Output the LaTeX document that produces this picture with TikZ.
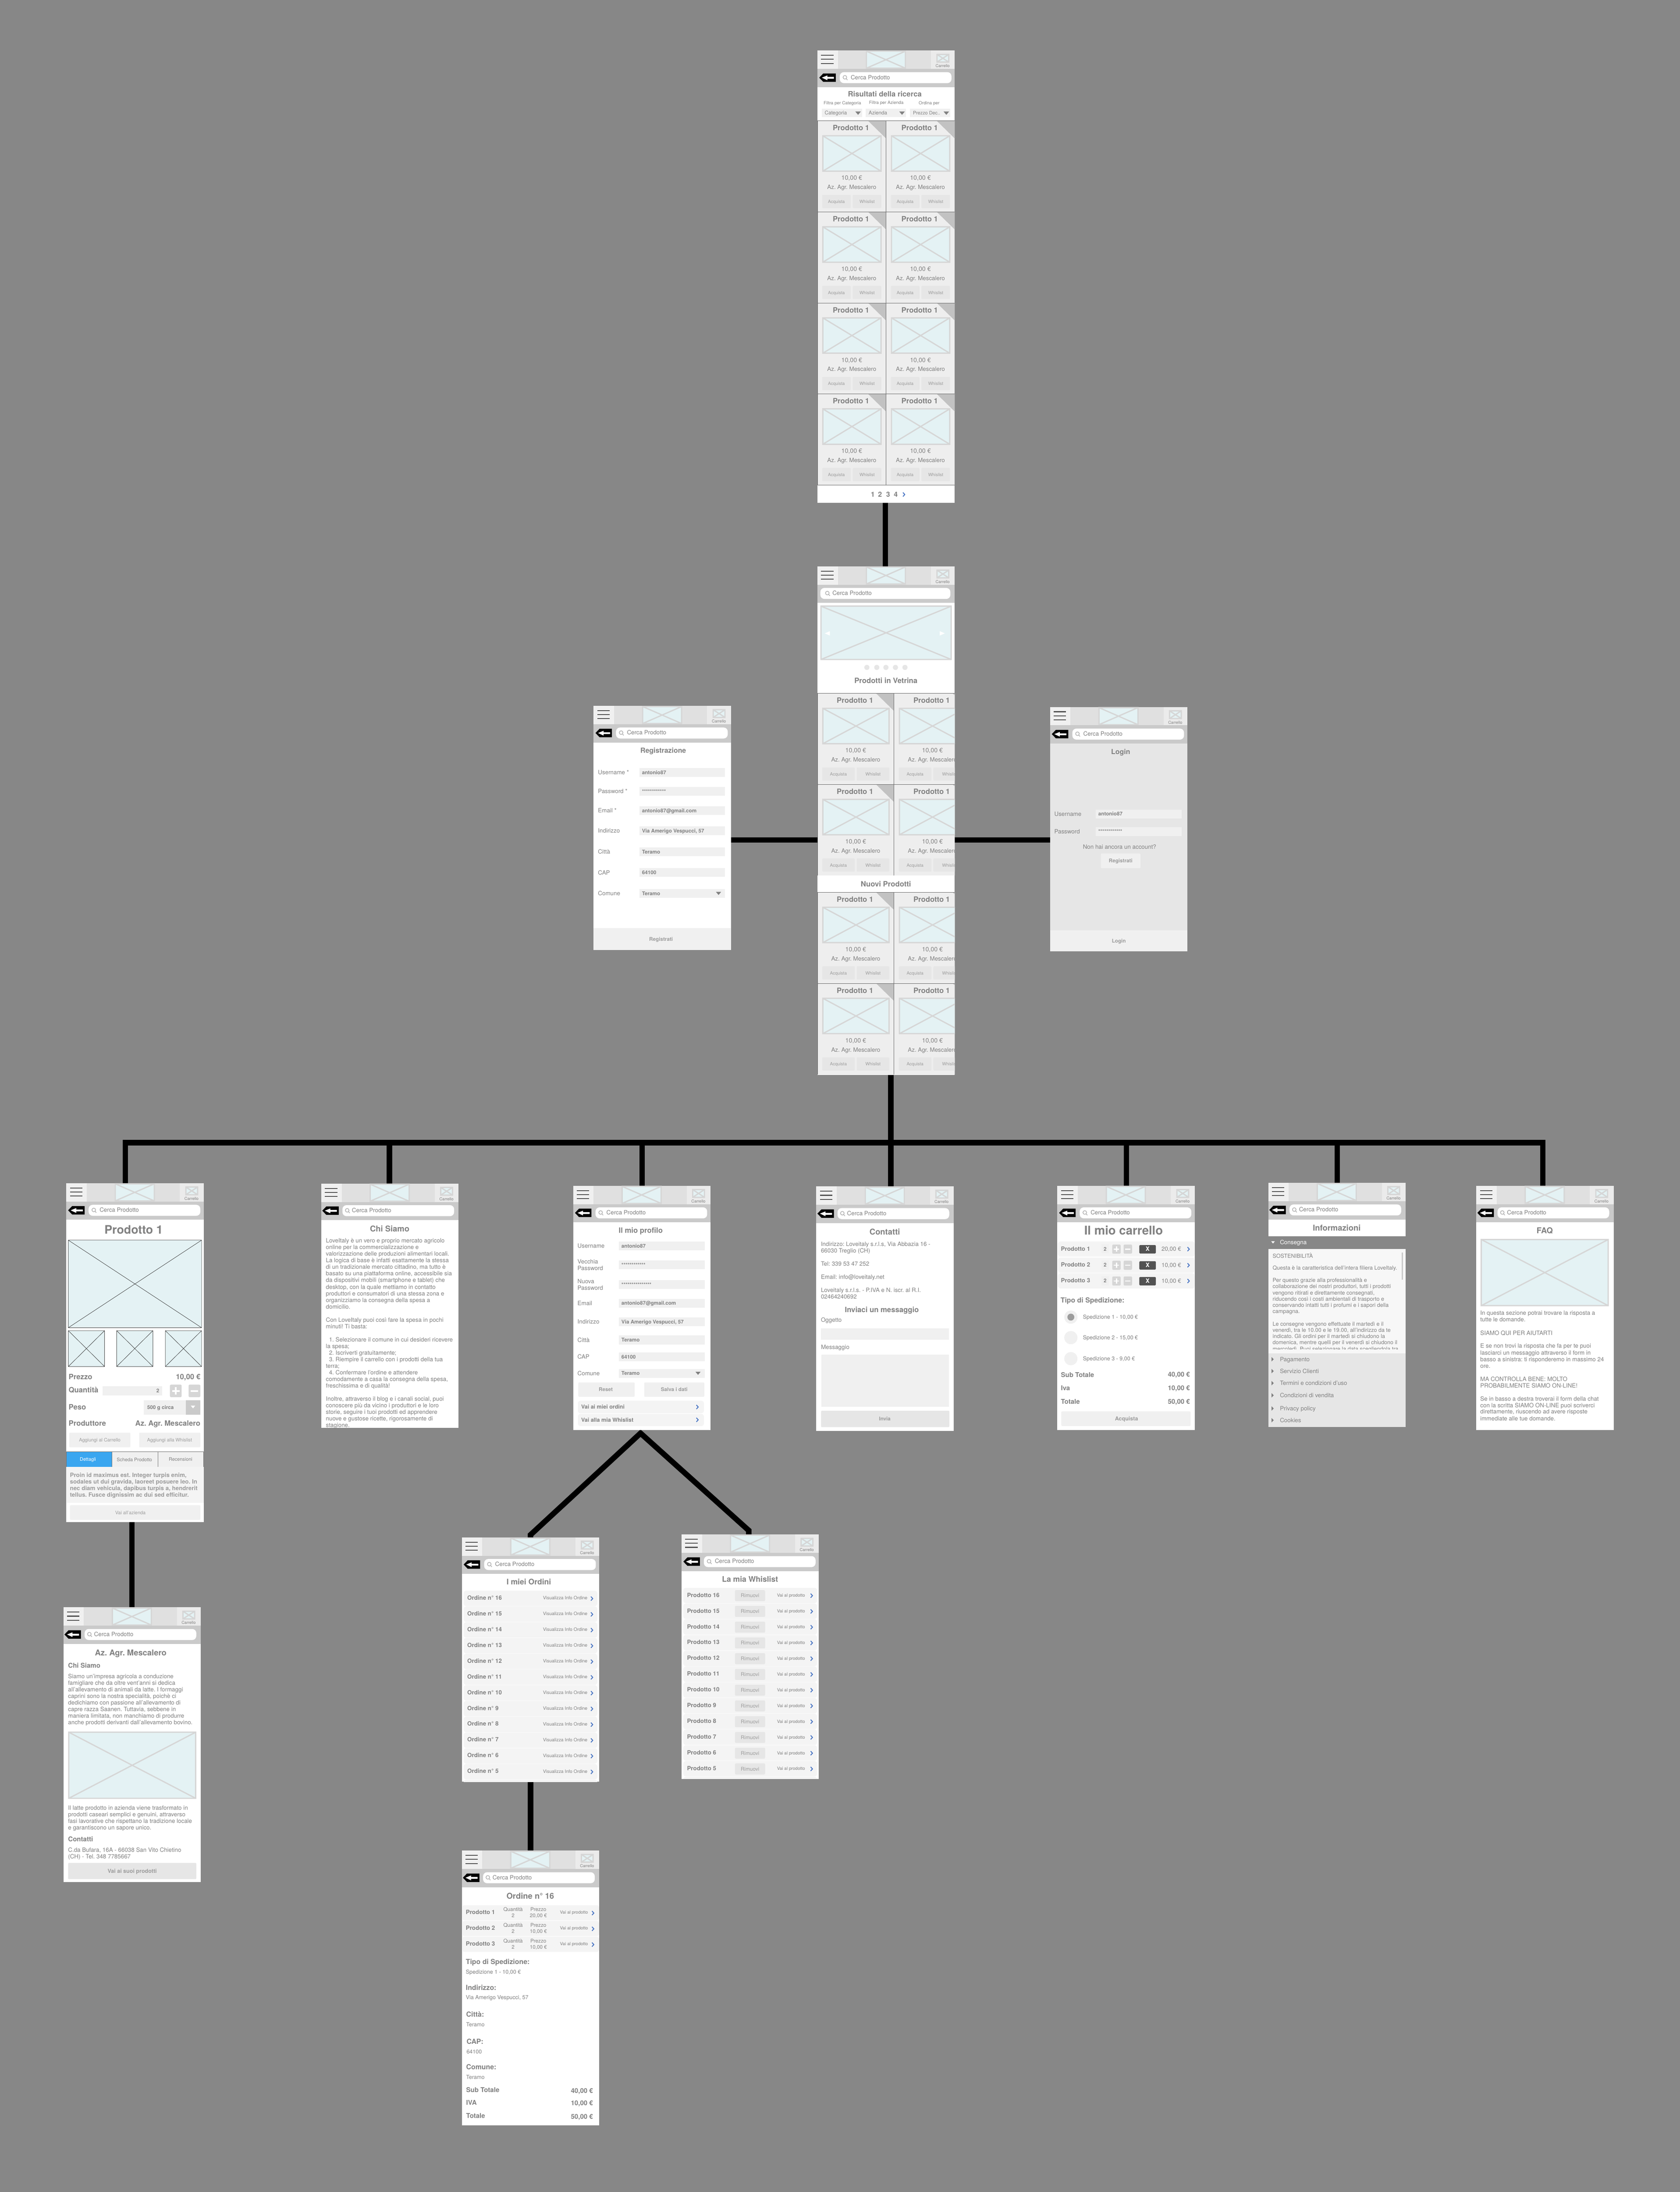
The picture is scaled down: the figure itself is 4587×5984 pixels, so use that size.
\documentclass[tikz,border=0pt]{standalone}
\usepackage{fontspec}
\setmainfont{TeX Gyre Heros}
\usepackage{xcolor}
\frenchspacing

\definecolor{wfbg}{HTML}{878787}
\definecolor{wftxt}{HTML}{808080}
\definecolor{wfsoft}{HTML}{9C9C9C}
\definecolor{wfhead}{HTML}{E0E0E0}
\definecolor{wfbar}{HTML}{CACACA}
\definecolor{wfcard}{HTML}{EEEEEE}
\definecolor{wfbtn}{HTML}{E6E6E6}
\definecolor{wffield}{HTML}{F0F0F0}
\definecolor{wfrow}{HTML}{F4F4F4}
\definecolor{wfimg}{HTML}{E4F2F4}
\definecolor{wfedge}{HTML}{D6D6D6}
\definecolor{wfblue}{HTML}{4A76C4}
\definecolor{wftab}{HTML}{3AA6F0}

\pgfdeclarelayer{links}
\pgfsetlayers{links,main}

\tikzset{
  screen/.style={fill=white, anchor=north west, inner sep=0pt, outer sep=0pt, minimum width=375pt},
  link/.style={draw=black, line width=15pt, line join=miter},
  lb/.style={inner sep=0pt, outer sep=0pt, text=wftxt, yshift=-1.5pt},
  sz/.style={font=\fontsize{#1}{#1}\selectfont},
  bsz/.style={font=\fontsize{#1}{#1}\selectfont\bfseries},
  tl/.style={anchor=west},
  tr/.style={anchor=east},
  imgph/.style={fill=wfimg, draw=wfedge, line width=3.5pt},
  imgthin/.style={fill=wfimg, draw=black!75, line width=1pt},
  btn/.style={fill=wfbtn, rounded corners=2.5pt},
  rowbar/.style={fill=wfrow, rounded corners=7pt},
  chevron/.style={draw=wfblue, line width=2.4pt},
}

\newcounter{lbl}
\newcommand{\lab}[4][]{\stepcounter{lbl}\node[lb,#1] (lb\thelbl) at (#2,#3) {\vphantom{Ag}#4};}
\newcommand{\para}[5][]{\foreach \linetext [count=\linei from 0] in {#5} {\lab[tl,sz=16,#1]{#2}{#3+#4*\linei}{\linetext}}}
\newcommand{\imgbox}[5][imgph]{\draw[#1] (#2,#3) rectangle (#4,#5) (#2,#3) -- (#4,#5) (#2,#5) -- (#4,#3);}
\newcommand{\chev}[2]{\draw[chevron] (#1-2.5,#2-5.5) -- (#1+2.5,#2) -- (#1-2.5,#2+5.5);}
\newcommand{\tridown}[4][wftxt]{\fill[#1] (#2-#4,#3-#4*0.6) -- (#2+#4,#3-#4*0.6) -- (#2,#3+#4*0.6) -- cycle;}

\newcommand{\phonetop}{
  \fill[wfhead] (0,0) rectangle (375,50);
  \fill[wffield] (0,0) rectangle (56,50);
  \fill[black!8] (310,0) rectangle (375,50);
  \foreach \barY in {13,24,35} \draw[black!68, line width=2.5pt] (10,\barY) -- (44,\barY);
  \imgbox{133.75}{1.75}{240.25}{48.25}
  \imgbox{326.5}{10.5}{358.5}{31.5}
  \lab[sz=11]{342}{41.5}{Carrello}
  \fill[wfbar] (0,50) rectangle (375,100);
}
\newcommand{\backicon}[1]{
  \fill[black] (#1,74) -- (#1+11,62.5) -- (#1+45,62.5) -- (#1+45,85.5) -- (#1+11,85.5) -- cycle;
  \fill[white] (#1+7,74) -- (#1+22,68) -- (#1+22,72) -- (#1+40,72) -- (#1+40,77) -- (#1+22,77) -- (#1+22,81) -- cycle;
}
\newcommand{\searchfield}[4]{
  \fill[white, rounded corners=11pt] (#1,59) rectangle (#2,89);
  \draw[wfsoft!80, line width=1.7pt] (#3,73) circle (5pt) (#3+3.5,76.5) -- (#3+7,80.5);
  \lab[tl,sz=16]{#4}{73}{Cerca Prodotto}
}
\newcommand{\phoneA}{\phonetop\backicon{5}\searchfield{61}{366}{75}{91}}
\newcommand{\phoneB}{\phonetop\backicon{3}\searchfield{58}{363}{71}{84}}

\newcommand{\prodcard}[3]{
  \begin{scope}[shift={(#1,#2)}]
    \fill[wfcard] (0,0) rectangle (#3,248.5);
    \fill[black!24] (#3-49,0) -- (#3,0) -- (#3,48) -- cycle;
    \draw[black!60, line width=1pt] (0,248.5) -- (0,0) -- (#3,0);
    \lab[bsz=20]{#3/2-2}{20}{Prodotto 1}
    \imgbox{14.75}{40.75}{#3-13.75}{137.25}
    \lab[sz=17]{#3/2}{156}{10,00 €}
    \lab[sz=16]{#3/2}{181}{Az. Agr. Mescalero}
    \fill[btn] (13,202) rectangle (#3/2-2.5,238);
    \fill[btn] (#3/2+2.5,202) rectangle (#3-13,238);
    \lab[sz=12,text=wfsoft]{#3/4+5}{220}{Acquista}
    \lab[sz=12,text=wfsoft]{#3*0.75-5}{220}{Whislist}
  \end{scope}
}
\newcommand{\formrow}[3]{
  \fill[wffield] (125,#1-12) rectangle (359,#1+12);
  \lab[tl,sz=16]{12}{#1}{#2}
  \lab[tl,bsz=14]{132}{#1}{#3}
}
\newcommand{\plusbtn}[4]{
  \fill[wfedge, rounded corners=3pt] (#1,#2) rectangle (#3,#4);
  \draw[white, line width={(#3-#1)*0.14}] ({(#1+#3)/2-(#3-#1)*0.32},{(#2+#4)/2}) -- ({(#1+#3)/2+(#3-#1)*0.32},{(#2+#4)/2}) ({(#1+#3)/2},{(#2+#4)/2-(#3-#1)*0.32}) -- ({(#1+#3)/2},{(#2+#4)/2+(#3-#1)*0.32});
}
\newcommand{\minusbtn}[4]{
  \fill[wfedge, rounded corners=3pt] (#1,#2) rectangle (#3,#4);
  \draw[white, line width={(#3-#1)*0.14}] ({(#1+#3)/2-(#3-#1)*0.32},{(#2+#4)/2}) -- ({(#1+#3)/2+(#3-#1)*0.32},{(#2+#4)/2});
}

\begin{document}
\begin{tikzpicture}[x=1pt,y=-1pt]

  \useasboundingbox (0,0) rectangle (4587,5984);

  \node[screen, minimum height=1235pt] (search) at (2232,138) {};
  \node[screen, minimum height=1388pt] (home) at (2232,1546) {};
  \node[screen, minimum height=667pt] (reg) at (1621,1927) {};
  \node[screen, minimum height=667pt] (login) at (2867,1930) {};
  \node[screen, minimum height=925pt] (prodotto) at (181,3230) {};
  \node[screen, minimum height=667pt] (chi) at (877,3231) {};
  \node[screen, minimum height=667pt] (profilo) at (1565,3237) {};
  \node[screen, minimum height=667pt] (contatti) at (2229,3239) {};
  \node[screen, minimum height=667pt] (carrello) at (2887,3237) {};
  \node[screen, minimum height=667pt] (info) at (3463,3229) {};
  \node[screen, minimum height=667pt] (faq) at (4031,3237) {};
  \node[screen, minimum height=750pt] (azienda) at (173,4388) {};
  \node[screen, minimum height=667pt] (ordini) at (1261,4197) {};
  \node[screen, minimum height=667pt] (whish) at (1861,4189) {};
  \node[screen, minimum height=750pt] (ordine) at (1261,5052) {};

  \coordinate (topjoin) at (2417.5,1450);
  \coordinate (midjoin) at (2419.5,2293);
  \coordinate (busjoin) at (2432.5,3119.5);
  \coordinate (busleft) at (342.5,3119.5);
  \coordinate (busright) at (4212.5,3119.5);
  \coordinate (apex) at (1749,3912.5);
  \coordinate (ordinibend) at (1448.5,4190);
  \coordinate (whishbend) at (2044.5,4178);
  \coordinate (aziendatop) at (360.5,4300);

  \begin{pgfonlayer}{links}
    \fill[wfbg] (0,0) rectangle (4587,5984);
    \draw[link] (search.south -| topjoin) -- (home.north -| topjoin);
    \draw[link] (reg.east |- midjoin) -- (home.west |- midjoin);
    \draw[link] (home.east |- midjoin) -- (login.west |- midjoin);
    \draw[link] (home.south -| busjoin) -- (contatti.north -| busjoin);
    \draw[link] (prodotto.north -| busleft) -- (busleft) -- (busright) -- (faq.north -| busright);
    \foreach \name/\dropx in {chi/1063.5, profilo/1753.5, carrello/3075.5, info/3651.5} {
      \coordinate (drop\name) at (\dropx,3119.5);
      \draw[link] (drop\name) -- (\name.north -| drop\name);
    }
    \draw[link] (prodotto.south -| aziendatop) -- (azienda.north);
    \draw[link] (ordini.north) -- (ordinibend) -- (apex) -- (whishbend) -- (whish.north -| whishbend);
    \draw[link] (ordini.south) -- (ordine.north);
  \end{pgfonlayer}

  \begin{scope}[shift={(2232,138)}]
    \phoneA
    \lab[bsz=20]{184}{119}{Risultati della ricerca}
    \lab[sz=12]{68}{143}{Filtra per Categoria}
    \lab[sz=12]{188}{142}{Filtra per Azienda}
    \lab[sz=12]{305}{143}{Ordina per}
    \foreach \ddx/\ddtext/\ddtx/\ddsz in {12/Categoria/20/14, 132/Azienda/140/14, 253/Prezzo Dec../261/13} {
      \fill[wffield] (\ddx,159) rectangle (\ddx+110,181);
      \lab[tl,sz=\ddsz]{\ddtx}{170}{\ddtext}
      \tridown{\ddx+99}{171}{7.5}
    }
    \foreach \rowY in {192,440.5,689,937.5} {
      \prodcard{0}{\rowY}{187.5}
      \prodcard{187.5}{\rowY}{187.5}
    }
    \draw[black!60, line width=1pt] (0,1186) -- (375,1186);
    \foreach \pageN/\pageX in {1/151, 2/171, 3/193, 4/214} {
      \lab[bsz=19]{\pageX}{1212}{\pageN}
    }
    \chev{236}{1212}
  \end{scope}

  \begin{scope}[shift={(2232,1546)}]
    \begin{scope}
      \clip (0,0) rectangle (375,1388);
      \phonetop
      \searchfield{8}{363}{27}{41}
      \imgbox{9.75}{108.75}{365.25}{254.25}
      \fill[white] (20,183) -- (34,177) -- (34,189) -- cycle (348,183) -- (334,177) -- (334,189) -- cycle;
      \foreach \dotX in {135,162,187,213,239} \fill[wfbtn] (\dotX,276) circle (7pt);
      \lab[bsz=20]{187}{312}{Prodotti in Vetrina}
      \foreach \rowY in {347,595.5,890,1138.5} {
        \prodcard{0}{\rowY}{209.3}
        \prodcard{209.3}{\rowY}{209.3}
      }
      \lab[bsz=20]{187}{868}{Nuovi Prodotti}
    \end{scope}
  \end{scope}

  \begin{scope}[shift={(1621,1927)}]
    \phoneA
    \lab[bsz=19]{190}{122}{Registrazione}
    \formrow{182}{Username *}{antonio87}
    \formrow{233}{Password *}{************}
    \formrow{286}{Email *}{antonio87@gmail.com}
    \formrow{341}{Indirizzo}{Via Amerigo Vespucci, 57}
    \formrow{398.5}{Città}{Teramo}
    \formrow{455}{CAP}{64100}
    \formrow{512}{Comune}{Teramo}
    \tridown{341}{512}{7}
    \fill[wffield] (0,607) rectangle (375,667);
    \lab[bsz=14,text=wfsoft]{184}{637}{Registrati}
  \end{scope}

  \begin{scope}[shift={(2867,1930)}]
    \phoneA
    \fill[wfbtn] (0,100) rectangle (375,609);
    \fill[wffield] (0,609) rectangle (375,667);
    \lab[bsz=19]{193}{122}{Login}
    \formrow{292}{Username}{antonio87}
    \formrow{340}{Password}{************}
    \lab[sz=16]{190}{382}{Non hai ancora un account?}
    \fill[btn, fill=wffield] (139,400) rectangle (247,440);
    \lab[bsz=14,text=wfsoft]{193}{420}{Registrati}
    \lab[bsz=14,text=wfsoft]{188}{639}{Login}
  \end{scope}

  \begin{scope}[shift={(181,3230)}]
    \phoneA
    \lab[bsz=32]{184}{129}{Prodotto 1}
    \imgbox[imgthin]{5.5}{155.5}{369.5}{394.5}
    \imgbox[imgthin]{5.5}{402.5}{104.5}{500.5}
    \imgbox[imgthin]{137.5}{402.5}{236.5}{500.5}
    \imgbox[imgthin]{270.5}{402.5}{369.5}{500.5}
    \lab[tl,bsz=20]{6.5}{528.5}{Prezzo}
    \lab[tr,bsz=20]{366}{528.5}{10,00 €}
    \lab[tl,bsz=20]{6.5}{565}{Quantità}
    \fill[wffield] (99,554) rectangle (262,579);
    \lab[tr,bsz=14]{254}{567}{2}
    \plusbtn{283}{550}{315}{584}
    \minusbtn{334}{550}{366}{584}
    \lab[tl,bsz=20]{6.5}{611.5}{Peso}
    \fill[wffield] (212,592) rectangle (366,632);
    \fill[wfbar] (326.5,592) rectangle (366,632);
    \tridown[white]{346}{611}{6}
    \lab[tl,bsz=14]{221}{611.5}{500 g circa}
    \lab[tl,bsz=20]{6.5}{656}{Produttore}
    \lab[tr,bsz=20]{366}{656}{Az. Agr. Mescalero}
    \fill[btn, fill=wffield] (8,681) rectangle (175,721);
    \fill[btn, fill=wffield] (199,681) rectangle (366,721);
    \lab[sz=13,text=wfsoft]{91.5}{701}{Aggiungi al Carrello}
    \lab[sz=13,text=wfsoft]{282}{701}{Aggiungi alla Whislist}
    \draw[fill=wftab, draw=black!55, line width=.8pt] (0,733) rectangle (125,775);
    \draw[fill=wffield, draw=black!55, line width=.8pt] (125,733) rectangle (250,775);
    \draw[fill=wffield, draw=black!55, line width=.8pt] (250,733) rectangle (375,775);
    \lab[sz=13,text=white]{59}{754}{Dettagli}
    \lab[sz=13]{186}{754}{Scheda Prodotto}
    \lab[sz=13]{312}{754}{Recensioni}
    \fill[wfrow] (0,775) rectangle (375,873);
    \para[bsz=16,text=wfsoft]{10}{797}{18}{{Proin id maximus est. Integer turpis enim,}, {sodales ut dui gravida, laoreet posuere leo. In}, {nec diam vehicula, dapibus turpis a, hendrerit}, tellus. Fusce dignissim ac dui sed efficitur.}
    \fill[btn, fill=wffield] (10,879) rectangle (366,919);
    \lab[sz=13,text=wfsoft]{175}{899}{Vai all'azienda}
  \end{scope}

  \begin{scope}[shift={(877,3231)}]
    \phoneB
    \lab[bsz=22]{187}{124}{Chi Siamo}
    \begin{scope}
      \clip (0,100) rectangle (375,667);
      \para{13}{156}{18}{LoveItaly è un vero e proprio mercato agricolo, online per la commercializzazione e, valorizzazione delle produzioni alimentari locali., La logica di base è infatti esattamente la stessa, {di un tradizionale mercato cittadino, ma tutto è}, {basato su una piattaforma online, accessibile sia}, da dispositivi mobili (smartphone e tablet) che, {desktop, con la quale mettiamo in contatto}, produttori e consumatori di una stessa zona e, organizziamo la consegna della spesa a, domicilio.}
      \para{13}{372}{18}{Con LoveItaly puoi così fare la spesa in pochi, minuti! Ti basta:}
      \para{13}{426}{18}{\hspace*{8.5pt}1. Selezionare il comune in cui desideri ricevere, la spesa;, \hspace*{8.5pt}2. Iscriverti gratuitamente;, \hspace*{8.5pt}3. Riempire il carrello con i prodotti della tua, terra;, \hspace*{8.5pt}4. Confermare l'ordine e attendere, {comodamente a casa la consegna della spesa,}, freschissima e di qualità!}
      \para{13}{588}{18}{{Inoltre, attraverso il blog e i canali social, puoi}, conoscere più da vicino i produttori e le loro, {storie, seguire i tuoi prodotti ed apprendere}, {nuove e gustose ricette, rigorosamente di}, stagione.}
    \end{scope}
  \end{scope}

  \begin{scope}[shift={(1565,3237)}]
    \phoneA
    \lab[bsz=20]{184.5}{122}{Il mio profilo}
    \formrow{164}{Username}{antonio87}
    \fill[wffield] (125,204) rectangle (359,228);
    \para{12}{207}{18}{Vecchia, Password}
    \lab[tl,bsz=14]{132}{216}{************}
    \fill[wffield] (125,258) rectangle (359,282);
    \para{12}{261}{18}{Nuova, Password}
    \lab[tl,bsz=14]{132}{270}{***************}
    \formrow{320.5}{Email}{antonio87@gmail.com}
    \formrow{371}{Indirizzo}{Via Amerigo Vespucci, 57}
    \formrow{421}{Città}{Teramo}
    \formrow{467}{CAP}{64100}
    \formrow{512}{Comune}{Teramo}
    \tridown{341}{512}{7}
    \fill[btn, fill=wffield] (14,537) rectangle (168,576);
    \fill[btn, fill=wffield] (194,537) rectangle (358,576);
    \lab[bsz=14,text=wfsoft]{89}{556}{Reset}
    \lab[bsz=14,text=wfsoft]{276}{556}{Salva i dati}
    \fill[rowbar] (13,587) rectangle (357,621);
    \fill[rowbar] (13,623) rectangle (357,656);
    \lab[tl,bsz=15]{22}{604}{Vai ai miei ordini}
    \lab[tl,bsz=15]{22}{639.5}{Vai alla mia Whislist}
    \chev{339}{604}
    \chev{339}{639}
  \end{scope}

  \begin{scope}[shift={(2229,3239)}]
    \phoneB
    \lab[bsz=22]{187}{124}{Contatti}
    \para{12.6}{157}{18}{{Indirizzo: Loveitaly s.r.l.s, Via Abbazia 16 -}, 66030 Treglio (CH)}
    \para{12.6}{211}{18}{Tel: 339 53 47 252}
    \para{12.6}{247}{18}{Email: info@loveitaly.net}
    \para{12.6}{283}{18}{Loveitaly s.r.l.s. - P.IVA e N. iscr. al R.I., 02464240692}
    \lab[bsz=20]{179}{336.5}{Inviaci un messaggio}
    \para{12.6}{364}{18}{Oggetto}
    \fill[wffield] (12,387) rectangle (362,418);
    \para{13}{439}{18}{Messaggio}
    \fill[wffield] (14,459) rectangle (362,601);
    \fill[btn] (13,612) rectangle (363,657);
    \lab[bsz=14,text=wfsoft]{187}{634}{Invia}
  \end{scope}

  \begin{scope}[shift={(2887,3237)}]
    \phoneA
    \lab[bsz=33]{181}{123.5}{Il mio carrello}
    \foreach \rowY/\rowN/\rowP in {152/1/20,196/2/10,239/3/10} {
      \fill[rowbar] (2,\rowY) rectangle (375,\rowY+41.5);
      \lab[tl,bsz=16]{10}{\rowY+20}{Prodotto \rowN}
      \fill[wffield] (120,\rowY+8) rectangle (141,\rowY+33);
      \lab[bsz=14]{130.5}{\rowY+20.5}{2}
      \plusbtn{150}{\rowY+8.5}{173}{\rowY+33.5}
      \minusbtn{181}{\rowY+8.5}{204}{\rowY+33.5}
      \fill[black!68, rounded corners=2pt] (224,\rowY+10) rectangle (269,\rowY+33);
      \lab[bsz=16,text=white]{246.5}{\rowY+21}{X}
      \lab[tr,sz=16]{338}{\rowY+21}{\rowP,00 €}
      \chev{358}{\rowY+21}
    }
    \lab[tl,bsz=19]{9}{313}{Tipo di Spedizione:}
    \foreach \rowY/\shipT in {358.6/{Spedizione 1 - 10,00 €}, 414.6/{Spedizione 2 - 15,00 €}, 472/{Spedizione 3 - 9,00 €}} {
      \fill[wffield] (37,\rowY) circle (18pt);
      \lab[tl,sz=15]{70}{\rowY}{\shipT}
    }
    \fill[wfsoft] (37,358.6) circle (9.5pt);
    \lab[tl,bsz=18]{10}{516}{Sub Totale}
    \lab[tr,bsz=18]{362}{516}{40,00 €}
    \lab[tl,bsz=18]{10}{553}{Iva}
    \lab[tr,bsz=18]{362}{553}{10,00 €}
    \lab[tl,bsz=18]{10}{590}{Totale}
    \lab[tr,bsz=18]{362}{590}{50,00 €}
    \fill[btn, fill=wffield] (11,616) rectangle (364,656);
    \lab[bsz=15,text=wfsoft]{189}{636}{Acquista}
  \end{scope}

  \begin{scope}[shift={(3463,3229)}]
    \phoneB
    \lab[bsz=22]{187}{124}{Informazioni}
    \fill[wfbg] (0,146) rectangle (375,181);
    \tridown[white]{13}{162.5}{5}
    \lab[tl,sz=16,text=white]{32}{162.5}{Consegna}
    \fill[black!3] (0,181) rectangle (375,465);
    \fill[wfbar] (364,190) rectangle (368,265);
    \begin{scope}
      \clip (0,181) rectangle (375,454);
      \para[sz=15]{12}{198}{17}{SOSTENIBILITÀ}
      \para[sz=15]{12}{232}{17}{Questa è la caratteristica dell'intera filiera LoveItaly.}
      \para[sz=15]{12}{266}{17}{Per questo grazie alla professionalità e, {collaborazione dei nostri produttori, tutti i prodotti}, {vengono ritirati e direttamente consegnati,}, riducendo così i costi ambientali di trasporto e, conservando intatti tutti i profumi e i sapori della, campagna.}
      \para[sz=15]{12}{385}{17}{Le consegne vengono effettuate il martedì e il, {venerdì, tra le 10.00 e le 19.00, all'indirizzo da te}, indicato. Gli ordini per il martedì si chiudono la, {domenica, mentre quelli per il venerdì si chiudono il}, mercoledì. Puoi selezionare la data scegliendola tra}
    \end{scope}
    \fill[wfbtn] (0,465) rectangle (375,667);
    \foreach \itemY/\itemT in {481.6/Pagamento, 514/Servizio Clienti, 547/Termini e condizioni d'uso, 580/Condizioni di vendita, 616/Privacy policy, 648/Cookies} {
      \fill[wftxt] (9,\itemY-6) -- (15,\itemY) -- (9,\itemY+6) -- cycle;
      \lab[tl,sz=16]{32}{\itemY}{\itemT}
    }
  \end{scope}

  \begin{scope}[shift={(4031,3237)}]
    \phoneB
    \lab[bsz=22]{187}{123}{FAQ}
    \imgbox{13.75}{146.75}{360.25}{327.25}
    \para{11}{347.5}{18}{In questa sezione potrai trovare la risposta a, tutte le domande.}
    \para{11}{401.5}{18}{SIAMO QUI PER AIUTARTI}
    \para{11}{437.5}{18}{E se non trovi la risposta che fa per te puoi, lasciarci un messaggio attraverso il form in, basso a sinistra: ti risponderemo in massimo 24, ore.}
    \para{11}{527.5}{18}{MA CONTROLLA BENE: MOLTO, PROBABILMENTE SIAMO ON-LINE!}
    \para{11}{581}{18}{Se in basso a destra troverai il form della chat, con la scritta SIAMO ON-LINE puoi scriverci, {direttamente, riuscendo ad avere risposte}, immediate alle tue domande.}
  \end{scope}

  \begin{scope}[shift={(173,4388)}]
    \phoneB
    \lab[bsz=22]{184}{124}{Az. Agr. Mescalero}
    \lab[tl,bsz=18]{13}{159}{Chi Siamo}
    \para{13}{188.5}{18}{Siamo un'impresa agricola a conduzione, famigliare che da oltre vent'anni si dedica, all'allevamento di animali da latte. I formaggi, {caprini sono la nostra specialità, poichè ci}, dedichiamo con passione all'allevamento di, {capre razza Saanen. Tuttavia, sebbene in}, {maniera limitata, non manchiamo di produrre}, anche prodotti derivanti dall'allevamento bovino.}
    \imgbox{14.75}{340.75}{361.25}{521.25}
    \para{13}{547}{18}{Il latte prodotto in azienda viene trasformato in, {prodotti caseari semplici e genuini, attraverso}, fasi lavorative che rispettano la tradizione locale, e garantiscono un sapore unico.}
    \lab[tl,bsz=18]{13}{633}{Contatti}
    \para{13}{662}{18}{{C.da Bufara, 16A - 66038 San Vito Chietino}, (CH) - Tel. 348 7785667}
    \fill[btn] (13,697.5) rectangle (363,742);
    \lab[bsz=15,text=wfsoft]{188}{720}{Vai ai suoi prodotti}
  \end{scope}

  \begin{scope}[shift={(1261,4197)}]
    \phoneA
    \lab[bsz=21]{183}{122}{I miei Ordini}
    \begin{scope}
      \clip (0,100) rectangle (375,667);
      \fill[rowbar] (5,661.5) rectangle (370,703);
      \foreach \ordN [count=\ordI from 0] in {16,15,14,13,12,11,10,9,8,7,6,5} {
        \fill[rowbar] (5,145.5+43*\ordI) rectangle (370,187.5+43*\ordI);
        \lab[tl,bsz=16]{15}{165+43*\ordI}{Ordine n° \ordN}
        \lab[tr,sz=12.5]{343}{165+43*\ordI}{Visualizza Info Ordine}
        \chev{355}{167+43*\ordI}
      }
    \end{scope}
  \end{scope}

  \begin{scope}[shift={(1861,4189)}]
    \phoneA
    \lab[bsz=21]{187}{122}{La mia Whislist}
    \begin{scope}
      \clip (0,100) rectangle (375,667);
      \fill[rowbar] (5,661.5) rectangle (370,703);
      \foreach \wishN [count=\wishI from 0] in {16,15,14,13,12,11,10,9,8,7,6,5} {
        \fill[rowbar] (5,145.5+43*\wishI) rectangle (370,187.5+43*\wishI);
        \lab[tl,bsz=16]{15}{165.5+43*\wishI}{Prodotto \wishN}
        \fill[btn] (146,152+43*\wishI) rectangle (228,182+43*\wishI);
        \lab[sz=14,text=wfsoft]{187}{167+43*\wishI}{Rimuovi}
        \lab[tr,sz=12]{337}{166+43*\wishI}{Vai al prodotto}
        \chev{355}{167+43*\wishI}
      }
    \end{scope}
  \end{scope}

  \begin{scope}[shift={(1261,5052)}]
    \phoneB
    \lab[bsz=22]{187}{124}{Ordine n° 16}
    \foreach \rowY/\rowN/\rowP in {149/1/20,192/2/10,235/3/10} {
      \fill[rowbar] (1,\rowY) rectangle (375,\rowY+41.5);
      \lab[tl,bsz=16]{11}{\rowY+19}{Prodotto \rowN}
      \lab[sz=14]{140}{\rowY+11.5}{Quantità}
      \lab[sz=14]{140}{\rowY+28}{2}
      \lab[sz=14]{209}{\rowY+11.5}{Prezzo}
      \lab[sz=14]{209}{\rowY+28}{\rowP,00 €}
      \lab[tl,sz=12]{268}{\rowY+19}{Vai al prodotto}
      \chev{358}{\rowY+21.5}
    }
    \lab[tl,bsz=19]{11}{304}{Tipo di Spedizione:}
    \lab[tl,sz=15]{11}{331}{Spedizione 1 - 10,00 €}
    \lab[tl,bsz=19]{11}{374}{Indirizzo:}
    \lab[tl,sz=15]{11}{401}{Via Amerigo Vespucci, 57}
    \lab[tl,bsz=19]{12}{447.5}{Città:}
    \lab[tl,sz=15]{12}{475}{Teramo}
    \lab[tl,bsz=19]{13}{521}{CAP:}
    \lab[tl,sz=15]{13}{549}{64100}
    \lab[tl,bsz=19]{12}{591}{Comune:}
    \lab[tl,sz=15]{12}{618}{Teramo}
    \lab[tl,bsz=18]{12}{654}{Sub Totale}
    \lab[tr,bsz=18]{358}{656}{40,00 €}
    \lab[tl,bsz=18]{12}{688}{IVA}
    \lab[tr,bsz=18]{358}{690}{10,00 €}
    \lab[tl,bsz=18]{12}{724}{Totale}
    \lab[tr,bsz=18]{358}{726}{50,00 €}
  \end{scope}

\end{tikzpicture}
\end{document}
